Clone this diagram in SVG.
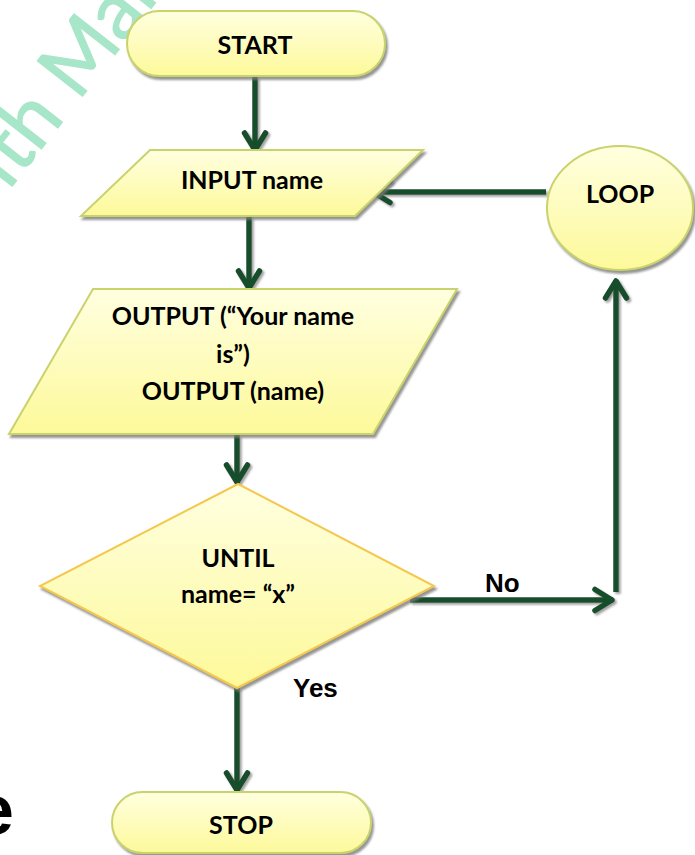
<svg xmlns="http://www.w3.org/2000/svg" width="695" height="855" viewBox="0 0 695 855">
  <defs>
    <linearGradient id="fillY" x1="0" y1="0" x2="0" y2="1">
      <stop offset="0" stop-color="#ffffe0"/>
      <stop offset="1" stop-color="#fdf99a"/>
    </linearGradient>
    <filter id="shadow" x="-10%" y="-10%" width="130%" height="130%">
      <feDropShadow dx="2" dy="3" stdDeviation="1.2" flood-color="#7a7a7a" flood-opacity="0.8"/>
    </filter>
    <!-- user-space region so that straight (zero-width) lines still get a shadow -->
    <filter id="lineShadow" filterUnits="userSpaceOnUse" x="0" y="0" width="695" height="855">
      <feDropShadow dx="2" dy="2" stdDeviation="0.8" flood-color="#8a8a8a" flood-opacity="0.8"/>
    </filter>
    <marker id="chevron" viewBox="0 0 30 30" refX="25" refY="15" markerWidth="30" markerHeight="30" markerUnits="userSpaceOnUse" orient="auto">
      <path d="M7,4.5 L24,15 L7,25.5" fill="none" stroke="#184d2c" stroke-width="5.5" stroke-linecap="round" stroke-linejoin="round"/>
    </marker>
    <style>
      .shape { fill: url(#fillY); stroke: #c9d36c; stroke-width: 2; filter: url(#shadow); }
      .diamond { fill: url(#fillY); stroke: #f4c84e; stroke-width: 2; filter: url(#shadow); }
      .lbl { font-family: "Lato", "Open Sans", sans-serif; font-weight: bold; font-size: 25px; fill: #000; text-anchor: middle; }
      .edge { font-family: "Liberation Sans", Arial, sans-serif; font-weight: bold; font-size: 26px; fill: #000; }
      .conn { fill: none; stroke: #184d2c; stroke-width: 5.5; marker-end: url(#chevron); filter: url(#lineShadow); }
    </style>
  </defs>
  <rect width="695" height="855" fill="#ffffff"/>

  <!-- faint diagonal watermark -->
  <text x="8.5" y="191" transform="rotate(-52 8.5 191)" font-family="Lato, sans-serif" font-size="80" fill="#a7e6c8" stroke="#a7e6c8" stroke-width="1.2">ith Malt</text>

  <!-- large heading letter at the lower-left edge -->
  <text x="14" y="834" font-family="Liberation Sans, Arial, sans-serif" font-weight="bold" font-size="70" fill="#000" text-anchor="end">e</text>

  <g id="connectors">
    <path class="conn" d="M255,77 V151"/>
    <path class="conn" d="M249,217 V289"/>
    <path class="conn" d="M237,435 V483"/>
    <path class="conn" d="M410,600 H613"/>
    <path class="conn" d="M616,592 V280"/>
    <path class="conn" d="M546,192 H372"/>
    <path class="conn" d="M237,688 V791"/>
  </g>

  <g id="start">
    <rect class="shape" x="127" y="11" width="258" height="65" rx="32.5"/>
    <text class="lbl" x="255" y="54">START</text>
  </g>

  <g id="input">
    <polygon class="shape" points="150,150 423,150 355,216 81,216"/>
    <text class="lbl" x="252" y="189">INPUT name</text>
  </g>

  <g id="output">
    <polygon class="shape" points="93,289 457,289 373,434 9,434"/>
    <text class="lbl" x="233" y="325">OUTPUT (“Your name</text>
    <text class="lbl" x="233" y="363">is”)</text>
    <text class="lbl" x="233" y="400">OUTPUT (name)</text>
  </g>

  <g id="until">
    <polygon class="diamond" points="238,484 434,586 237,688 40,586"/>
    <text class="lbl" x="238" y="567">UNTIL</text>
    <text class="lbl" x="238" y="603">name= “x”</text>
  </g>

  <g id="loop">
    <ellipse class="shape" cx="620" cy="208" rx="73" ry="62"/>
    <text class="lbl" x="620" y="203">LOOP</text>
  </g>

  <g id="stop">
    <rect class="shape" x="112" y="792" width="259" height="61" rx="30.5"/>
    <text class="lbl" x="241" y="834">STOP</text>
  </g>

  <g id="edge-labels">
    <text class="edge" x="485" y="592">No</text>
    <text class="edge" x="293" y="697">Yes</text>
  </g>
</svg>
